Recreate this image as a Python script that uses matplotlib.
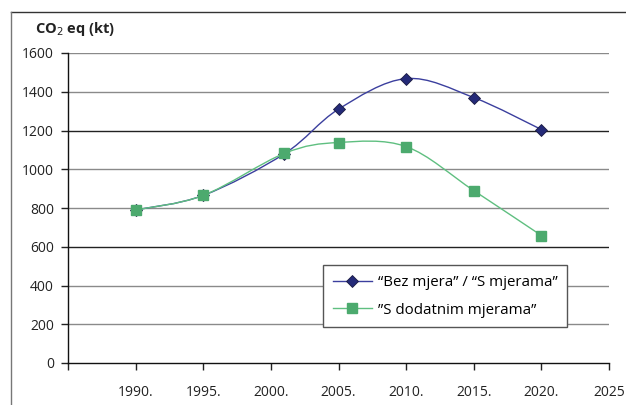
import matplotlib
matplotlib.use("Agg")
import matplotlib.pyplot as plt
from matplotlib.path import Path
from matplotlib.patches import PathPatch
from matplotlib.lines import Line2D
import numpy as np

plt.rcParams['font.family'] = ['Open Sans', 'DejaVu Sans']

years = [1990, 1995, 2001, 2005, 2010, 2015, 2020]
bez_mjera = [790, 865, 1080, 1310, 1468, 1370, 1205]
dodatne = [790, 865, 1082, 1138, 1117, 890, 658]

xticks = [1985, 1990, 1995, 2000, 2005, 2010, 2015, 2020, 2025]
xlabels = ["", "1990.", "1995.", "2000.", "2005.", "2010.", "2015.", "2020.", "2025"]
yticks = [0, 200, 400, 600, 800, 1000, 1200, 1400, 1600]

blue_line = "#3b3f9e"
blue_mark = "#242a78"
green_line = "#5fbf80"
green_mark = "#4caa6e"


def smooth_path(x, y):
    # Excel-style smoothed line: cubic Bezier segments through each point
    p = np.column_stack([x, y]).astype(float)
    n = len(p)
    verts = [p[0]]
    codes = [Path.MOVETO]
    for i in range(n - 1):
        p0 = p[i - 1] if i > 0 else p[i]
        p3 = p[i + 2] if i + 2 < n else p[i + 1]
        c1 = p[i] + (p[i + 1] - p0) / 6
        c2 = p[i + 1] - (p3 - p[i]) / 6
        verts += [c1, c2, p[i + 1]]
        codes += [Path.CURVE4] * 3
    return Path(verts, codes)


fig = plt.figure(figsize=(6.26, 4.05), dpi=100)
ax = fig.add_axes([68 / 626, 1 - 363 / 405, (609 - 68) / 626, (363 - 53) / 405])

# outer frame (top and left only)
fig.add_artist(Line2D([11 / 626, 1], [1 - 12 / 405] * 2, color="#333333", lw=1))
fig.add_artist(Line2D([11 / 626] * 2, [0, 1 - 12 / 405], color="#777777", lw=1))

for v in yticks[1:]:
    c = "#222222" if v in (600, 1200) else "#8a8a8a"
    ax.axhline(v, color=c, lw=1, zorder=0)

ax.add_patch(PathPatch(smooth_path(years, bez_mjera), fill=False,
                       edgecolor=blue_line, lw=1, zorder=2))
ax.plot(years, bez_mjera, ls="none", marker="D", ms=6, color=blue_mark,
        mec="#1a1a40", mew=0.6, zorder=3)
ax.add_patch(PathPatch(smooth_path(years, dodatne), fill=False,
                       edgecolor=green_line, lw=1, zorder=4))
ax.plot(years, dodatne, ls="none", marker="s", ms=6.5, color=green_mark,
        mec=green_mark, zorder=5)

ax.set_xlim(1985, 2025)
ax.set_ylim(0, 1600)
ax.set_xticks(xticks)
ax.set_xticklabels(xlabels)
ax.set_yticks(yticks)
ax.tick_params(axis="x", length=5, width=1, pad=11, labelsize=10, colors="#222222")
ax.tick_params(axis="y", length=5, width=1, pad=5, labelsize=10, colors="#222222")
for s in ("top", "right"):
    ax.spines[s].set_visible(False)
for s in ("left", "bottom"):
    ax.spines[s].set_color("#111111")
    ax.spines[s].set_linewidth(1)

fig.text(35 / 626, 1 - 29 / 405, "CO$_2$ eq (kt)", fontsize=10.5,
         fontweight="bold", va="center", ha="left", color="#222222")

handles = [
    Line2D([], [], color=blue_line, lw=1, marker="D", ms=6, mfc=blue_mark, mec="#1a1a40", mew=0.6),
    Line2D([], [], color=green_line, lw=1, marker="s", ms=6.5, mfc=green_mark, mec=green_mark),
]
leg = ax.legend(handles, ["\u201cBez mjera\u201d / \u201cS mjerama\u201d", "\u201dS dodatnim mjerama\u201d"],
                loc="upper left", bbox_to_anchor=((323 - 68) / 541, 1 - (265 - 53) / 310),
                fancybox=False, framealpha=1, edgecolor="#555555", fontsize=10.8,
                handlelength=2.6, borderpad=0.65, labelspacing=0.85, handletextpad=0.4,
                borderaxespad=0)
leg.get_frame().set_linewidth(1)

fig.savefig("out.png", dpi=100)
